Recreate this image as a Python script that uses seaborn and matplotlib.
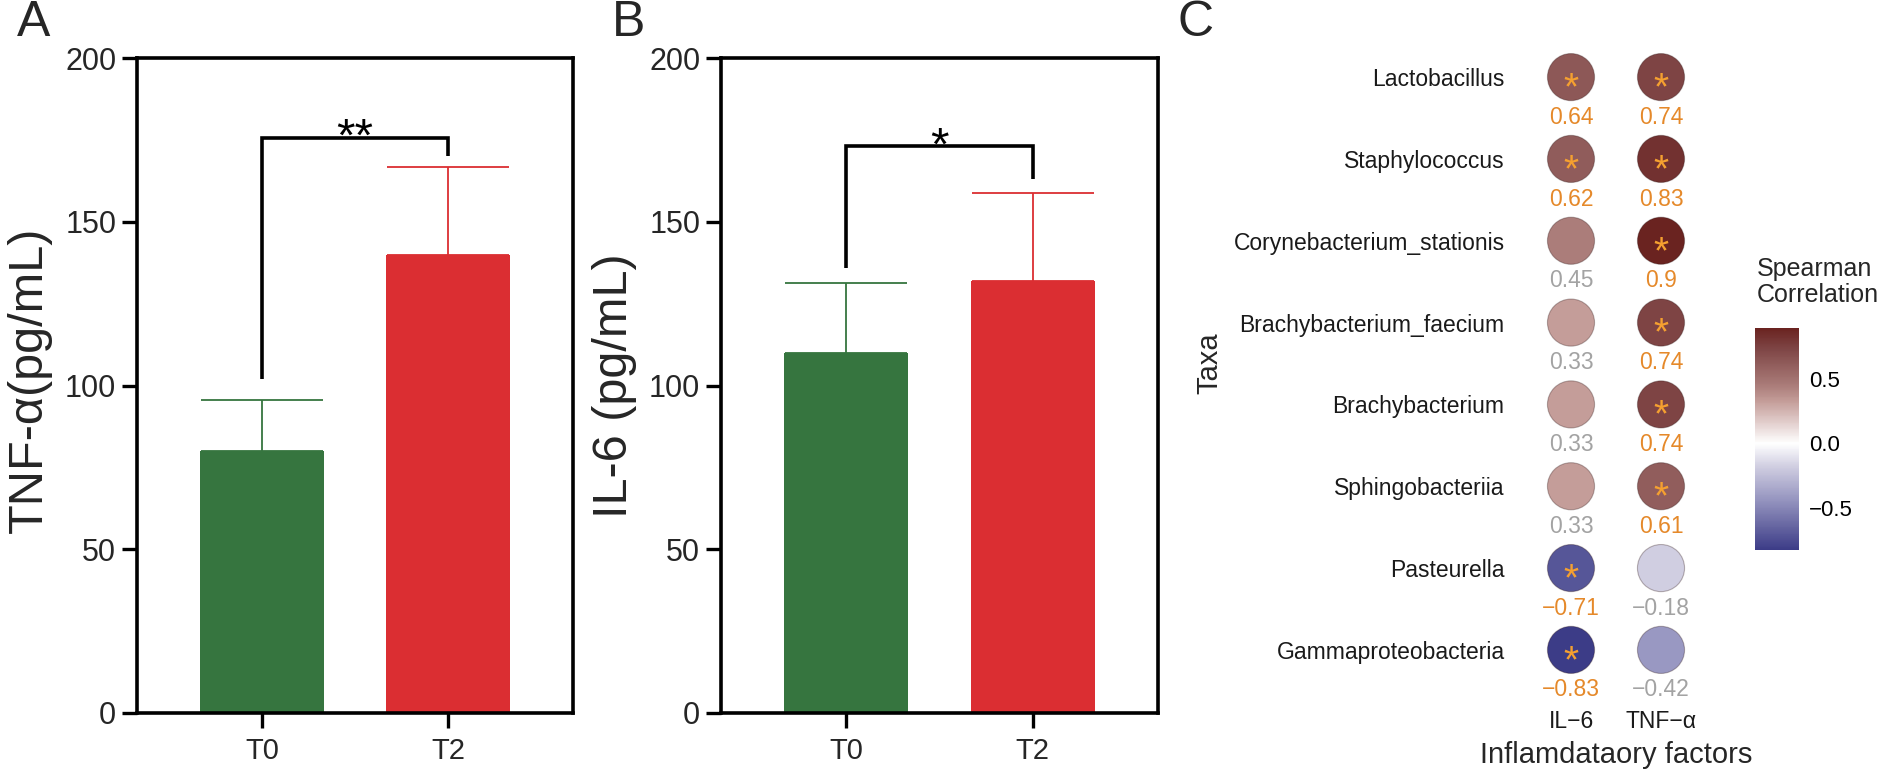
"""Cytokine levels at T0 / T2 (panels A, B) and Spearman correlation of
taxa with the inflammatory factors (panel C)."""
import numpy as np
import pandas as pd
import matplotlib
matplotlib.use("Agg")
import matplotlib.pyplot as plt
import seaborn as sns
from matplotlib.colors import LinearSegmentedColormap, Normalize
from matplotlib.cm import ScalarMappable

# ---- data -------------------------------------------------------------
groups = ["T0", "T2"]
tnf_mean = [80, 140]
tnf_sd = [15.6, 26.7]
il6_mean = [110, 132]
il6_sd = [21.3, 26.8]
# significance brackets: left foot, top, right foot
tnf_bracket = [102, 175.6, 170]
il6_bracket = [136, 173, 163]
tnf_stars = "**"
il6_stars = "*"

taxa = ["Lactobacillus", "Staphylococcus", "Corynebacterium_stationis",
        "Brachybacterium_faecium", "Brachybacterium", "Sphingobacteriia",
        "Pasteurella", "Gammaproteobacteria"]
factors = ["IL\u22126", "TNF\u2212\u03b1"]
il6_r = [0.64, 0.62, 0.45, 0.33, 0.33, 0.33, -0.71, -0.83]
tnf_r = [0.74, 0.83, 0.9, 0.74, 0.74, 0.61, -0.18, -0.42]
il6_sig = [True, True, False, False, False, False, True, True]
tnf_sig = [True, True, True, True, True, True, False, False]
cbar_ticks = [-0.5, 0.0, 0.5]

# ---- style ------------------------------------------------------------
GREEN, RED = "#36753f", "#db2e32"
BAR_COLORS = [GREEN, RED]
SIG_COL, NS_COL, STAR_COL = "#e5892a", "#a3a3a3", "#f5a030"
R_MIN, R_MAX = min(il6_r + tnf_r), max(il6_r + tnf_r)

sns.set_style("white")
plt.rcParams["font.family"] = ["Liberation Sans", "DejaVu Sans"]

W, H = 1901, 776
fig = plt.figure(figsize=(W / 100, H / 100), dpi=100)
axA = fig.add_axes([137 / W, 1 - 713 / H, 436 / W, 655 / H])
axB = fig.add_axes([721 / W, 1 - 713 / H, 437 / W, 655 / H])
axC = fig.add_axes([1517 / W, 1 - 699 / H, 198 / W, 671 / H])
cax = fig.add_axes([1755 / W, 1 - 550 / H, 44 / W, 222 / H])


def bar_panel(ax, means, sds, bracket, stars, ylabel, label_x, label_y):
    sns.barplot(x=groups, y=means, hue=groups, palette=BAR_COLORS, width=0.667,
                saturation=1, legend=False, linewidth=0, ax=ax)
    pos = np.arange(len(groups))
    for p, m, s, c in zip(pos, means, sds, BAR_COLORS):
        ax.errorbar(p, m, yerr=[[0], [s]], color=c, capsize=44, elinewidth=1.3,
                    capthick=1.3, zorder=3)
    ax.plot([pos[0], pos[0], pos[1], pos[1]], [bracket[0], bracket[1], bracket[1], bracket[2]],
            color="black", lw=2.6, solid_joinstyle="miter", solid_capstyle="butt", zorder=4)
    ax.text((pos[0] + pos[1]) / 2, bracket[1] - 4, stars, ha="center", va="baseline",
            fontsize=34, color="black")
    ax.set_ylim(0, 200)
    ax.set_yticks([0, 50, 100, 150, 200])
    ax.set_xlim(-0.672, 1.672)
    ax.set_xlabel("")
    ax.set_ylabel(ylabel, fontsize=35)
    ax.yaxis.set_label_coords(label_x, label_y)
    for sp in ax.spines.values():
        sp.set_visible(True)
        sp.set_linewidth(2.6)
        sp.set_color("black")
    ax.tick_params(axis="both", direction="out", length=11, width=2.4, color="black",
                   left=True, bottom=True, pad=4)
    ax.tick_params(axis="y", labelsize=22)
    ax.tick_params(axis="x", labelsize=21, pad=6)


bar_panel(axA, tnf_mean, tnf_sd, tnf_bracket, tnf_stars, "TNF-\u03b1(pg/mL)", -0.195, 0.508)
bar_panel(axB, il6_mean, il6_sd, il6_bracket, il6_stars, "IL-6 (pg/mL)", -0.192, 0.5)

# ---- panel C: correlation dot plot ------------------------------------
stops = [(-0.83, "#3c3c87"), (-0.42, "#9a99c2"), (-0.18, "#d0cee1"), (0.0, "#ffffff"),
         (0.33, "#c49d99"), (0.45, "#ab7d7a"), (0.74, "#7e4545"), (0.9, "#6a2320")]
cmap = LinearSegmentedColormap.from_list(
    "spearman", [((v - R_MIN) / (R_MAX - R_MIN), c) for v, c in stops])
norm = Normalize(vmin=R_MIN, vmax=R_MAX)

long = pd.DataFrame({
    "taxon": taxa * 2,
    "factor": [factors[0]] * len(taxa) + [factors[1]] * len(taxa),
    "r": il6_r + tnf_r,
    "sig": il6_sig + tnf_sig,
})
long["xi"] = long["factor"].map({f: i for i, f in enumerate(factors)})
long["yi"] = long["taxon"].map({t: i for i, t in enumerate(taxa)})

sns.scatterplot(data=long, x="xi", y="yi", hue="r", palette=cmap, hue_norm=norm,
                s=1150, edgecolor=(0.15, 0.05, 0.05, 0.3), linewidth=0.8,
                legend=False, ax=axC, zorder=2)

for _, row in long.iterrows():
    if row["sig"]:
        axC.text(row["xi"], row["yi"] + 0.27, "*", ha="center", va="baseline",
                 fontsize=28, color=STAR_COL, zorder=3)
    txt = f"{row['r']:g}".replace("-", "\u2212")
    axC.text(row["xi"], row["yi"] + 0.49, txt, ha="center", va="center", fontsize=16.5,
             color=SIG_COL if row["sig"] else NS_COL, zorder=3)

axC.set_xlim(-0.6, len(factors) - 0.4)
axC.set_ylim(len(taxa) - 0.4, -0.6)
axC.set_xticks(range(len(factors)))
axC.set_xticklabels(factors)
axC.set_yticks(range(len(taxa)))
axC.set_yticklabels(taxa)
axC.tick_params(axis="both", length=0, labelsize=16.5, colors="#1a1a1a")
axC.tick_params(axis="y", pad=9)
axC.tick_params(axis="x", pad=8)
for sp in axC.spines.values():
    sp.set_visible(False)
axC.set_facecolor("none")
axC.set_xlabel("Inflamdataory factors", fontsize=21, labelpad=6)
axC.set_ylabel("Taxa", fontsize=21)
axC.yaxis.set_label_coords(-1.485, 0.5)

cb = fig.colorbar(ScalarMappable(norm=norm, cmap=cmap), cax=cax)
cb.outline.set_visible(False)
cb.set_ticks(cbar_ticks)
cb.set_ticklabels([f"{t:.1f}".replace("-", "\u2212") for t in cbar_ticks])
cax.tick_params(axis="y", direction="in", length=6, width=1, colors="white",
                labelcolor="black", left=True, right=True, labelsize=16, pad=7)
fig.text(1757 / W, 1 - 257 / H, "Spearman\nCorrelation", fontsize=18, ha="left", va="top",
         linespacing=1.1)

# ---- panel letters ----------------------------------------------------
for x, letter in [(17, "A"), (612, "B"), (1177, "C")]:
    fig.text(x / W, 1.0, letter, fontsize=36, ha="left", va="top")

fig.savefig("out.png", dpi=100)
